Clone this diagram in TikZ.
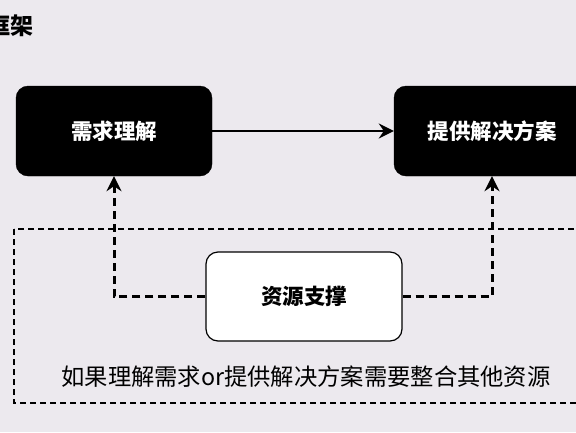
\documentclass[tikz,border=0pt]{standalone}
\usepackage{fontspec}
\newfontfamily\cjk{Noto Sans CJK SC}
\usetikzlibrary{arrows.meta}
\definecolor{bg}{HTML}{ECE9EE}

\begin{document}
\begin{tikzpicture}[
    >={Stealth[length=15pt, width=15pt, inset=5pt]},
    x=1pt, y=-1pt,
    block/.style = {
      draw,
      fill = black,
      text = white,
      rounded corners = 12pt,
      minimum width = 196pt,
      minimum height = 90pt,
      font = \cjk\bfseries\fontsize{21.5}{25}\selectfont
    },
    support/.style = {
      block,
      fill = white,
      text = black,
      line width = 1.2pt,
      minimum height = 89pt
    },
    link/.style = {
      line width = 3pt,
      dash pattern = on 8pt off 5pt
    },
    frame/.style = {
      line width = 1.4pt,
      dash pattern = on 6pt off 4pt
    }
  ]
  \useasboundingbox[fill=bg] (0,0) rectangle (576,432);
  \node[anchor=east, inner sep=0pt, font=\cjk\bfseries\fontsize{23}{26}\selectfont]
    (title) at (34,26) {框架};
  \draw[frame] (14,229) rectangle (600,403);
  \node[block] (need) at (114,131) {需求理解};
  \node[block] (plan) at (492,131) {提供解决方案};
  \node[support] (res) at (304,296.5) {资源支撑};
  \node[font=\cjk\fontsize{23.3}{27}\selectfont] (note) at (306,377)
    {如果理解需求or提供解决方案需要整合其他资源};
  \draw[->, line width=2.2pt] (need) -- (plan);
  \draw[link, ->] (res.west) -| (need.south);
  \draw[link, ->] (res.east) -| (plan.south);
\end{tikzpicture}
\end{document}
